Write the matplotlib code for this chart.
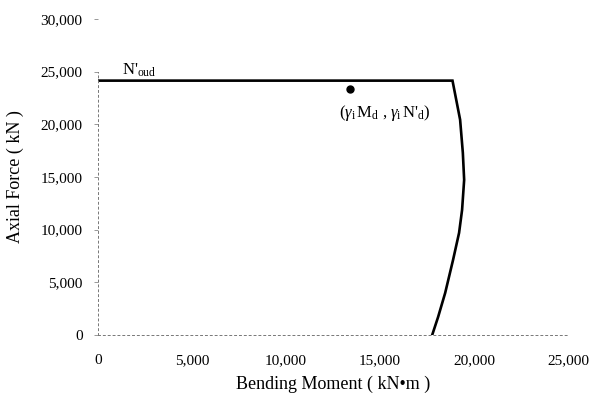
import matplotlib
matplotlib.use("Agg")
import matplotlib.pyplot as plt

plt.rcParams['font.family'] = ['Liberation Serif', 'DejaVu Serif']
plt.rcParams['mathtext.fontset'] = 'custom'
plt.rcParams['mathtext.rm'] = 'Liberation Serif'
plt.rcParams['mathtext.it'] = 'Liberation Serif:italic'

# interaction curve (M in kN*m, N in kN)
moment = [0, 18850, 19255, 19400, 19470, 19360, 19200, 18880, 18460, 18085, 17770]
axial = [24150, 24150, 20440, 17300, 14730, 11880, 9700, 7130, 3990, 1710, 0]

# design point (gamma_i*Md, gamma_i*N'd)
design_m = [13400]
design_n = [23380]

xticks = [0, 5000, 10000, 15000, 20000, 25000]
yticks = [0, 5000, 10000, 15000, 20000, 25000, 30000]

fig = plt.figure(figsize=(5.9, 3.96), dpi=100)
ax = fig.add_axes([0.166, 0.154, 0.797, 0.798])

ax.plot(moment, axial, color='black', lw=1.9, solid_joinstyle='miter')
ax.plot(design_m, design_n, 'o', color='black', ms=5)

ax.text(1300, 24350, r"N'$_{\rm oud}$", fontsize=12, ha='left', va='bottom')
ax.text(15270, 21100, r"($\gamma_{\rm i}\,$M$_{\rm d}$ , $\gamma_{\rm i}\,$N'$_{\rm d}$)",
        fontsize=12, ha='center', va='center')

ax.set_xlim(0, 25000)
ax.set_ylim(0, 30000)
ax.set_xticks(xticks)
ax.set_yticks(yticks)
ax.set_xticklabels([f"{v:,}" for v in xticks])
ax.set_yticklabels([f"{v:,}" for v in yticks])
ax.tick_params(axis='x', length=0, pad=14, labelsize=11)
ax.tick_params(axis='y', length=3, width=0.6, color='#888888', pad=8, labelsize=11)

for s in ['top', 'right']:
    ax.spines[s].set_visible(False)
for s in ['left', 'bottom']:
    ax.spines[s].set_linestyle((0, (2, 3)))
    ax.spines[s].set_linewidth(0.7)
    ax.spines[s].set_color('#777777')
ax.spines['left'].set_bounds(0, 25000)

ax.set_xlabel("Bending Moment ( kN\u2022m )", fontsize=13, labelpad=6)
ax.set_ylabel("Axial Force ( kN )", fontsize=13, labelpad=12)

fig.savefig("out.png", dpi=100)
